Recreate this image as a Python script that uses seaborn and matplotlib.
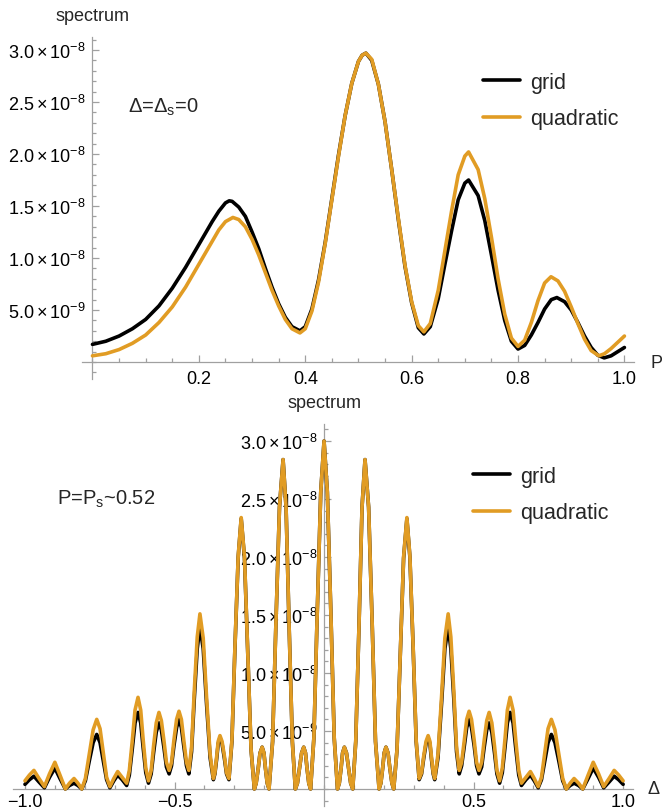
import numpy as np
import pandas as pd
import seaborn as sns
import matplotlib.pyplot as plt
from matplotlib.ticker import FixedLocator, MultipleLocator, FuncFormatter

# spectrum values are given in units of 1e-8
SCALE = 1e-8

# ---- top panel: spectrum vs P at Delta = Delta_s = 0 ----
p_grid = [0.000, 0.025, 0.050, 0.075, 0.100, 0.125, 0.150, 0.175, 0.200, 0.2125, 0.225, 0.2375, 0.250, 0.257,
          0.2625, 0.275, 0.2875, 0.300, 0.3125, 0.325, 0.3375, 0.350, 0.3625, 0.375, 0.390, 0.400, 0.4125,
          0.425, 0.4375, 0.450, 0.4625, 0.475, 0.4875, 0.500, 0.507, 0.514, 0.525, 0.5375, 0.550, 0.5625,
          0.575, 0.5875, 0.600, 0.6125, 0.623, 0.635, 0.650, 0.6625, 0.675, 0.6875, 0.700, 0.707, 0.725,
          0.7375, 0.750, 0.7625, 0.775, 0.7875, 0.800, 0.8125, 0.825, 0.8375, 0.850, 0.8625, 0.873, 0.8875,
          0.900, 0.9125, 0.925, 0.9375, 0.950, 0.962, 0.975, 0.9875, 1.000]
s_grid = [0.17, 0.20, 0.25, 0.32, 0.41, 0.54, 0.71, 0.91, 1.13, 1.24, 1.35, 1.45, 1.53, 1.55,
          1.545, 1.49, 1.40, 1.25, 1.09, 0.90, 0.72, 0.56, 0.43, 0.34, 0.30, 0.34, 0.51,
          0.79, 1.15, 1.57, 1.99, 2.37, 2.68, 2.89, 2.95, 2.97, 2.90, 2.67, 2.31, 1.85,
          1.37, 0.92, 0.57, 0.33, 0.27, 0.34, 0.61, 0.94, 1.26, 1.56, 1.72, 1.75, 1.60,
          1.36, 1.03, 0.69, 0.40, 0.20, 0.125, 0.16, 0.26, 0.38, 0.51, 0.60, 0.62, 0.58,
          0.50, 0.38, 0.25, 0.14, 0.065, 0.04, 0.06, 0.10, 0.14]

p_quad = [0.000, 0.025, 0.050, 0.075, 0.100, 0.125, 0.150, 0.175, 0.200, 0.2125, 0.225, 0.2375, 0.250, 0.264,
          0.275, 0.2875, 0.300, 0.3125, 0.325, 0.3375, 0.350, 0.3625, 0.375, 0.390, 0.400, 0.4125, 0.425,
          0.4375, 0.450, 0.4625, 0.475, 0.4875, 0.500, 0.507, 0.514, 0.525, 0.5375, 0.550, 0.5625, 0.575,
          0.5875, 0.600, 0.6125, 0.623, 0.635, 0.650, 0.6625, 0.675, 0.6875, 0.700, 0.707, 0.725, 0.7375,
          0.750, 0.7625, 0.775, 0.7875, 0.800, 0.8125, 0.825, 0.8375, 0.850, 0.862, 0.875, 0.8875, 0.900,
          0.9125, 0.925, 0.9375, 0.952, 0.9625, 0.975, 0.9875, 1.000]
s_quad = [0.06, 0.08, 0.12, 0.18, 0.26, 0.38, 0.53, 0.72, 0.94, 1.05, 1.16, 1.27, 1.35, 1.39,
          1.37, 1.30, 1.18, 1.03, 0.86, 0.69, 0.54, 0.41, 0.32, 0.28, 0.32, 0.49, 0.77,
          1.14, 1.56, 1.98, 2.37, 2.68, 2.89, 2.95, 2.97, 2.91, 2.67, 2.31, 1.85, 1.38,
          0.93, 0.58, 0.35, 0.29, 0.37, 0.69, 1.07, 1.45, 1.80, 1.98, 2.02, 1.85, 1.57,
          1.20, 0.80, 0.46, 0.23, 0.15, 0.21, 0.38, 0.59, 0.76, 0.82, 0.78, 0.68, 0.53,
          0.37, 0.22, 0.11, 0.06, 0.08, 0.13, 0.19, 0.25]

# ---- bottom panel: spectrum vs Delta at P = P_s ~ 0.52 ----
delta_neg = [-1.000, -0.985, -0.970, -0.953, -0.935, -0.918, -0.900, -0.883, -0.865, -0.851, -0.836, -0.823,
             -0.810, -0.798, -0.785, -0.772, -0.760, -0.749, -0.738, -0.727, -0.716, -0.703, -0.690, -0.675,
             -0.660, -0.651, -0.641, -0.632, -0.622, -0.613, -0.605, -0.596, -0.587, -0.578, -0.570, -0.561,
             -0.552, -0.544, -0.535, -0.527, -0.518, -0.510, -0.502, -0.493, -0.485, -0.477, -0.469, -0.460,
             -0.452, -0.443, -0.434, -0.424, -0.415, -0.404, -0.393, -0.381, -0.370, -0.365, -0.359, -0.354,
             -0.348, -0.341, -0.333, -0.326, -0.318, -0.308, -0.298, -0.287, -0.277, -0.266, -0.255, -0.244,
             -0.233, -0.227, -0.220, -0.214, -0.207, -0.201, -0.196, -0.190, -0.184, -0.172, -0.161, -0.149,
             -0.137, -0.127, -0.117, -0.106, -0.096, -0.089, -0.082, -0.075, -0.068, -0.062, -0.057, -0.051,
             -0.045, -0.034, -0.023, -0.011]
quad_neg = [0.07, 0.12, 0.16, 0.09, 0.02, 0.13, 0.23, 0.12, 0.00, 0.05, 0.09, 0.05,
            0.00, 0.09, 0.30, 0.51, 0.60, 0.52, 0.31, 0.10, 0.02, 0.09, 0.15, 0.10,
            0.05, 0.16, 0.42, 0.68, 0.79, 0.68, 0.43, 0.18, 0.07, 0.16, 0.37, 0.57,
            0.66, 0.59, 0.41, 0.23, 0.16, 0.23, 0.42, 0.60, 0.67, 0.60, 0.42, 0.23,
            0.16, 0.36, 0.84, 1.31, 1.51, 1.30, 0.80, 0.30, 0.09, 0.14, 0.28, 0.41,
            0.46, 0.41, 0.28, 0.14, 0.09, 0.42, 1.22, 2.01, 2.34, 2.00, 1.17, 0.34,
            0.00, 0.05, 0.18, 0.31, 0.36, 0.31, 0.18, 0.05, 0.00, 0.41, 1.42, 2.43,
            2.84, 2.43, 1.42, 0.41, 0.00, 0.05, 0.18, 0.31, 0.36, 0.31, 0.18, 0.05,
            0.00, 0.44, 1.50, 2.56]
grid_neg = [0.04, 0.08, 0.11, 0.06, 0.01, 0.10, 0.18, 0.09, 0.00, 0.03, 0.05, 0.03,
            0.00, 0.07, 0.24, 0.40, 0.47, 0.40, 0.24, 0.08, 0.01, 0.07, 0.12, 0.08,
            0.03, 0.12, 0.35, 0.57, 0.66, 0.57, 0.36, 0.14, 0.05, 0.13, 0.31, 0.49,
            0.57, 0.51, 0.35, 0.19, 0.13, 0.20, 0.37, 0.53, 0.60, 0.53, 0.37, 0.20,
            0.13, 0.32, 0.77, 1.21, 1.40, 1.21, 0.74, 0.27, 0.08, 0.13, 0.26, 0.39,
            0.44, 0.39, 0.26, 0.13, 0.08, 0.41, 1.21, 2.00, 2.33, 1.99, 1.17, 0.34,
            0.00, 0.05, 0.18, 0.31, 0.36, 0.31, 0.18, 0.05, 0.00, 0.41, 1.42, 2.43,
            2.84, 2.43, 1.42, 0.41, 0.00, 0.05, 0.18, 0.31, 0.36, 0.31, 0.18, 0.05,
            0.00, 0.44, 1.50, 2.56]

delta_pos = [0.000, 0.011, 0.023, 0.034, 0.045, 0.051, 0.057, 0.062, 0.068, 0.075, 0.082, 0.089,
             0.096, 0.106, 0.117, 0.127, 0.137, 0.149, 0.161, 0.172, 0.184, 0.190, 0.196, 0.201,
             0.207, 0.214, 0.220, 0.227, 0.233, 0.244, 0.255, 0.266, 0.277, 0.287, 0.298, 0.308,
             0.318, 0.326, 0.333, 0.341, 0.348, 0.354, 0.359, 0.365, 0.370, 0.381, 0.393, 0.404,
             0.415, 0.424, 0.434, 0.443, 0.452, 0.460, 0.469, 0.477, 0.485, 0.493, 0.502, 0.510,
             0.518, 0.527, 0.535, 0.544, 0.552, 0.561, 0.570, 0.578, 0.587, 0.596, 0.605, 0.613,
             0.622, 0.632, 0.641, 0.651, 0.660, 0.675, 0.690, 0.703, 0.716, 0.727, 0.738, 0.749,
             0.760, 0.772, 0.785, 0.798, 0.810, 0.823, 0.836, 0.851, 0.865, 0.883, 0.900, 0.918,
             0.935, 0.953, 0.970, 0.985, 1.000]
quad_pos = [3.00, 2.56, 1.50, 0.44, 0.00, 0.05, 0.18, 0.31, 0.36, 0.31, 0.18, 0.05,
            0.00, 0.41, 1.42, 2.43, 2.84, 2.43, 1.42, 0.41, 0.00, 0.05, 0.18, 0.31,
            0.36, 0.31, 0.18, 0.05, 0.00, 0.34, 1.17, 2.00, 2.34, 2.01, 1.22, 0.42,
            0.09, 0.14, 0.28, 0.41, 0.46, 0.41, 0.28, 0.14, 0.09, 0.30, 0.80, 1.30,
            1.51, 1.31, 0.84, 0.36, 0.16, 0.23, 0.42, 0.60, 0.67, 0.60, 0.42, 0.23,
            0.16, 0.23, 0.41, 0.59, 0.66, 0.57, 0.37, 0.16, 0.07, 0.18, 0.43, 0.68,
            0.79, 0.68, 0.42, 0.16, 0.05, 0.10, 0.15, 0.09, 0.02, 0.10, 0.31, 0.52,
            0.60, 0.51, 0.30, 0.09, 0.00, 0.05, 0.09, 0.05, 0.00, 0.12, 0.23, 0.13,
            0.02, 0.09, 0.16, 0.12, 0.07]
grid_pos = [3.00, 2.56, 1.50, 0.44, 0.00, 0.05, 0.18, 0.31, 0.36, 0.31, 0.18, 0.05,
            0.00, 0.41, 1.42, 2.43, 2.84, 2.43, 1.42, 0.41, 0.00, 0.05, 0.18, 0.31,
            0.36, 0.31, 0.18, 0.05, 0.00, 0.34, 1.17, 1.99, 2.33, 2.00, 1.21, 0.41,
            0.08, 0.13, 0.26, 0.39, 0.44, 0.39, 0.26, 0.13, 0.08, 0.27, 0.74, 1.21,
            1.40, 1.21, 0.77, 0.32, 0.13, 0.20, 0.37, 0.53, 0.60, 0.53, 0.37, 0.20,
            0.13, 0.19, 0.35, 0.51, 0.57, 0.49, 0.31, 0.13, 0.05, 0.14, 0.36, 0.57,
            0.66, 0.57, 0.35, 0.12, 0.03, 0.08, 0.12, 0.07, 0.01, 0.08, 0.24, 0.40,
            0.47, 0.40, 0.24, 0.07, 0.00, 0.03, 0.05, 0.03, 0.00, 0.09, 0.18, 0.10,
            0.01, 0.06, 0.11, 0.08, 0.04]

ytick_vals = [0.5, 1.0, 1.5, 2.0, 2.5, 3.0]

# build long-form tables for seaborn
top_df = pd.concat([
    pd.DataFrame({'P': p_grid, 'spectrum': np.array(s_grid) * SCALE, 'method': 'grid'}),
    pd.DataFrame({'P': p_quad, 'spectrum': np.array(s_quad) * SCALE, 'method': 'quadratic'}),
], ignore_index=True)
bot_df = pd.concat([
    pd.DataFrame({'Delta': delta_neg + delta_pos,
                  'spectrum': np.array(grid_neg + grid_pos) * SCALE, 'method': 'grid'}),
    pd.DataFrame({'Delta': delta_neg + delta_pos,
                  'spectrum': np.array(quad_neg + quad_pos) * SCALE, 'method': 'quadratic'}),
], ignore_index=True)

sns.set_style('white')
plt.rcParams['font.family'] = ['Liberation Sans', 'DejaVu Sans']
plt.rcParams['mathtext.fontset'] = 'custom'
plt.rcParams['mathtext.rm'] = 'Liberation Sans'
plt.rcParams['mathtext.it'] = 'Liberation Sans:italic'
plt.rcParams['mathtext.bf'] = 'Liberation Sans:bold'

ORANGE = '#e19c24'
AXIS_GREY = '#a0a0a0'
palette = {'grid': 'black', 'quadratic': ORANGE}


def sci_label(v, pos):
    if v < 0.99e-8:
        m, e = v / 1e-9, -9
    else:
        m, e = v / 1e-8, -8
    return r'$\mathregular{%.1f\times10^{%d}}$' % (m, e)


def dec_label(v, pos):
    return f'{v:.1f}'.replace('-', '\u2212')


def style_axes(ax, xlim, ylim, xmajor, xminor, xpad):
    ax.set_xlim(*xlim)
    ax.set_ylim(*ylim)
    ax.spines['top'].set_visible(False)
    ax.spines['right'].set_visible(False)
    ax.spines['left'].set_position(('data', 0))
    ax.spines['bottom'].set_position(('data', 0))
    for side in ['left', 'bottom']:
        ax.spines[side].set_color(AXIS_GREY)
        ax.spines[side].set_linewidth(0.9)
    ax.xaxis.set_major_locator(FixedLocator(xmajor))
    ax.xaxis.set_minor_locator(MultipleLocator(xminor))
    ax.yaxis.set_major_locator(FixedLocator([v * SCALE for v in ytick_vals]))
    ax.yaxis.set_minor_locator(MultipleLocator(0.1 * SCALE))
    ax.xaxis.set_major_formatter(FuncFormatter(dec_label))
    ax.yaxis.set_major_formatter(FuncFormatter(sci_label))
    ax.tick_params(which='both', direction='in', color=AXIS_GREY, width=0.9,
                   bottom=True, left=True, top=False, right=False,
                   labelsize=13, labelcolor='black')
    ax.tick_params(which='major', length=5)
    ax.tick_params(which='minor', length=3)
    ax.tick_params(axis='x', pad=xpad)
    ax.tick_params(axis='y', pad=5)
    ax.set_xlabel('')
    ax.set_ylabel('')
    # curves over the tick labels, as in the reference
    for line in ax.lines:
        line.set_zorder(3)
    ax.annotate('spectrum', xy=(0, 1), xycoords=('data', 'axes fraction'),
                xytext=(0, 15.5), textcoords='offset points',
                ha='center', va='center', fontsize=13)


fig = plt.figure(figsize=(6.62, 8.12), dpi=100)
ax1 = fig.add_axes([82 / 662, 1 - 380 / 812, 552 / 662, 342 / 812])
ax2 = fig.add_axes([13 / 662, 1 - 807 / 812, 620 / 662, 382 / 812])

sns.lineplot(data=top_df, x='P', y='spectrum', hue='method', hue_order=['grid', 'quadratic'],
             palette=palette, estimator=None, linewidth=2.6, ax=ax1)
sns.lineplot(data=bot_df, x='Delta', y='spectrum', hue='method', hue_order=['grid', 'quadratic'],
             palette=palette, estimator=None, linewidth=2.6, ax=ax2)

style_axes(ax1, (-0.0197, 1.018), (-0.163 * SCALE, 3.125 * SCALE),
           [0.2, 0.4, 0.6, 0.8, 1.0], 0.05, 6)
style_axes(ax2, (-1.040, 1.033), (-0.147 * SCALE, 3.147 * SCALE),
           [-1.0, -0.5, 0.5, 1.0], 0.1, 3)

ax1.annotate('P', xy=(1, 0), xycoords=('axes fraction', 'data'), xytext=(16, 0),
             textcoords='offset points', ha='center', va='center', fontsize=13)
ax2.annotate('\u0394', xy=(1, 0), xycoords=('axes fraction', 'data'), xytext=(15, 0),
             textcoords='offset points', ha='center', va='center', fontsize=13)

ax1.text(0.067, 2.46 * SCALE, r'$\Delta$=$\Delta_\mathregular{s}$=0', ha='left', va='center', fontsize=14.5)
ax2.text(-0.893, 2.51 * SCALE, r'P=P$_\mathregular{s}$~0.52', ha='left', va='center', fontsize=14.5)

for ax, anchor in [(ax1, (483 / 662, 1 - 73 / 812)), (ax2, (473 / 662, 1 - 467 / 812))]:
    handles, labels = ax.get_legend_handles_labels()
    ax.legend(handles, labels, loc='upper left', bbox_to_anchor=anchor,
              bbox_transform=fig.transFigure, frameon=False, fontsize=15.5,
              handlelength=1.7, handletextpad=0.5, labelspacing=0.7,
              borderpad=0, borderaxespad=0)

fig.savefig('out.png', dpi=100)
